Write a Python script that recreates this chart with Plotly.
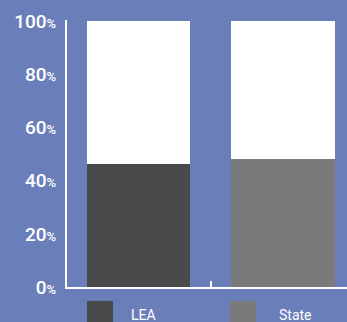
import plotly.graph_objects as go

categories = ["LEA", "State"]
values = [46.2, 48.1]
bar_colors = ["#4a4a4a", "#7a7a7a"]
tick_vals = [0, 20, 40, 60, 80, 100]
tick_labels = [f"{v}<span style='font-size:13px'>%</span>" for v in tick_vals]

BG = "#6a7eba"
FONT = "Roboto, sans-serif"

fig = go.Figure()
xs = [0, 1]
fig.add_trace(go.Bar(x=xs, y=values, marker=dict(color=bar_colors, line=dict(width=0)),
                     width=0.713, showlegend=False, hoverinfo="skip"))
fig.add_trace(go.Bar(x=xs, y=[100 - v for v in values], marker=dict(color="white", line=dict(width=0)),
                     width=0.713, showlegend=False, hoverinfo="skip"))

# custom legend (squares + labels)
sq_x = [20 / 280, 163 / 280]
txt_x = [62 / 280, 210 / 280]
for i, name in enumerate(categories):
    x0 = sq_x[i]
    fig.add_shape(type="rect", xref="paper", yref="paper",
                  x0=x0, x1=x0 + 26 / 280, y0=-0.135, y1=-0.052,
                  fillcolor=bar_colors[i], line=dict(width=0))
    fig.add_annotation(xref="paper", yref="paper", x=txt_x[i], y=-0.103,
                       text=name, showarrow=False, xanchor="left", yanchor="middle",
                       font=dict(color="white", size=14, family=FONT))

fig.update_layout(
    width=347, height=322,
    margin=dict(l=67, r=0, t=20, b=35),
    paper_bgcolor=BG, plot_bgcolor=BG,
    barmode="stack", bargap=0,
    xaxis=dict(range=[-0.495, 1.443], showgrid=False, zeroline=False,
               showline=True, linecolor="white", linewidth=2,
               tickvals=[0.5], ticks="inside", ticklen=6, tickwidth=2, tickcolor="white",
               showticklabels=False, fixedrange=True),
    yaxis=dict(range=[0, 100.5], showgrid=False, zeroline=False,
               showline=True, linecolor="white", linewidth=2,
               tickvals=tick_vals, ticktext=tick_labels, ticks="",
               ticklabelstandoff=5,
               tickfont=dict(color="white", size=19, family=FONT, weight=500), fixedrange=True),
    font=dict(family=FONT, color="white"),
)

fig.write_html("out.html", config={"displayModeBar": False})
